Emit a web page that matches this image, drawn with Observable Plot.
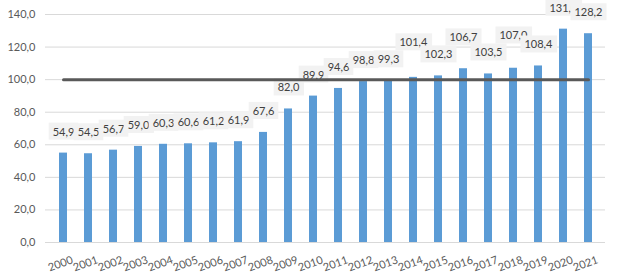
<!DOCTYPE html>
<html><head><meta charset="utf-8">
<script src="https://cdn.jsdelivr.net/npm/d3@7"></script>
<script src="https://cdn.jsdelivr.net/npm/@observablehq/plot@0.6"></script>
<style>body{margin:0;background:#fff}</style>
</head><body><div id="chart"></div>
<script>
const years = ["2000","2001","2002","2003","2004","2005","2006","2007","2008","2009","2010","2011","2012","2013","2014","2015","2016","2017","2018","2019","2020","2021"];
const values = [54.9,54.5,56.7,59.0,60.3,60.6,61.2,61.9,67.6,82.0,89.9,94.6,98.8,99.3,101.4,102.3,106.7,103.5,107.0,108.4,131.0,128.2];
const referenceLevel = 100;
const yTicks = [0,20,40,60,80,100,120,140];

const data = years.map((year, i) => ({year, value: values[i]}));
const fmt = v => v.toFixed(1).replace(".", ",");

const chart = Plot.plot({
  width: 618, height: 279,
  marginLeft: 45, marginRight: 13, marginTop: 14, marginBottom: 37,
  style: {fontFamily: "Lato", fontSize: "11px", color: "#595959", background: "#fff"},
  x: {domain: years, paddingInner: 0.68, paddingOuter: 0.34, label: null},
  y: {domain: [0, 140], label: null},
  marks: [
    Plot.ruleY(yTicks, {stroke: "#d9d9d9", strokeWidth: 1}),
    Plot.axisY(yTicks, {tickFormat: fmt, tickSize: 0, tickPadding: 10, label: null, fill: "#595959"}),
    Plot.axisX({tickSize: 0, tickPadding: 17, tickRotate: -20, dx: 9, label: null, fill: "#595959"}),
    Plot.barY(data, {x: "year", y: "value", fill: "#5b9bd5"}),
    Plot.text(data, {x: "year", y: "value", text: d => fmt(d.value), dy: -21, fill: "#404040", fontSize: 11}),
    Plot.lineY(data, {x: "year", y: () => referenceLevel, stroke: "#595959", strokeWidth: 3})
  ]
});
document.getElementById("chart").append(chart);

// data-label layout: background boxes, and lift a label that collides with its left neighbour
const svgTop = chart.getBoundingClientRect().top;
const padX = 4, padY = 2, gap = 2;
let prev = null;
chart.querySelectorAll('g[aria-label="text"] text').forEach(t => {
  const baseTr = t.getAttribute("transform") || "";
  const bb = t.getBBox();
  const br = t.getBoundingClientRect();
  const boxH = bb.height + 2 * padY;
  let cx = br.left + br.width / 2, cy = br.top + br.height / 2, w = br.width;
  let lift = 0;
  if (prev && !prev.lifted) {
    const hOverlap = (w + prev.w) / 2 + gap > Math.abs(cx - prev.cx);
    const vOverlap = Math.abs(cy - prev.cy) < boxH;
    if (hOverlap && vOverlap) {
      const target = prev.cy - boxH;
      if (target - boxH / 2 - svgTop >= 0) lift = cy - target;
    }
  }
  const tr = lift ? `${baseTr} translate(0,${-lift})` : baseTr;
  if (tr) t.setAttribute("transform", tr);
  const r = document.createElementNS("http://www.w3.org/2000/svg", "rect");
  r.setAttribute("x", bb.x - padX);
  r.setAttribute("y", bb.y - padY);
  r.setAttribute("width", bb.width + 2 * padX);
  r.setAttribute("height", boxH);
  r.setAttribute("fill", "#f2f2f2");
  if (tr) r.setAttribute("transform", tr);
  t.parentNode.insertBefore(r, t);
  prev = {cx, cy: cy - lift, w, lifted: lift > 0};
});
</script>
</body></html>
